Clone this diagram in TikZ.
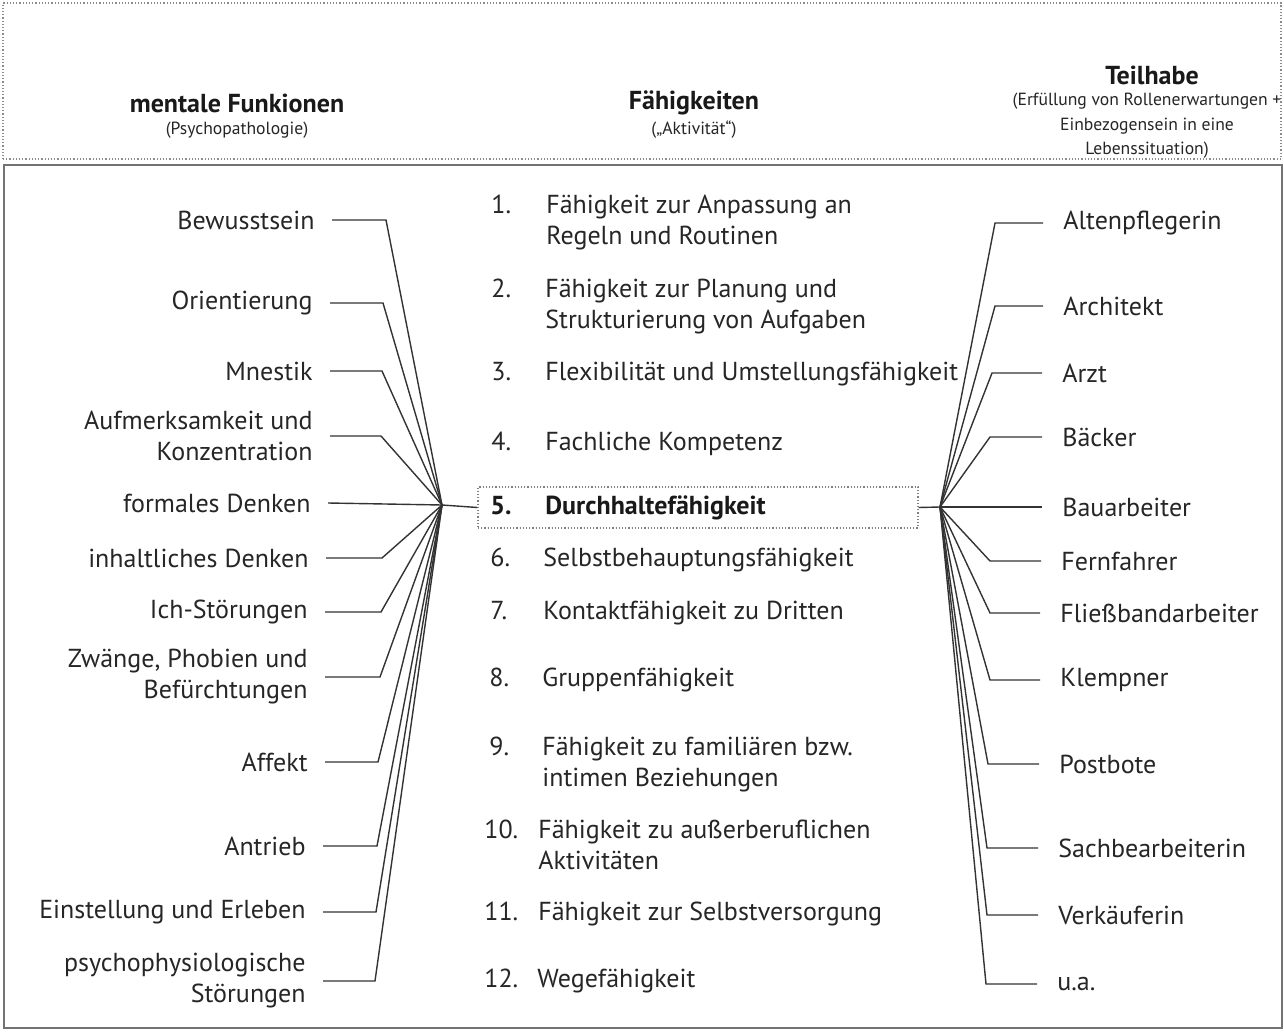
\documentclass[tikz,border=0pt]{standalone}
\usepackage{fontspec}
\setmainfont{PT Sans}
\begin{document}
\begin{tikzpicture}[x=0.5pt,y=-0.5pt,
  body/.style={font=\fontsize{13}{15.5}\selectfont, text=black!85},
  bbody/.style={font=\bfseries\fontsize{13}{15.5}\selectfont, text=black!90},
  lab/.style={body, anchor=east, align=right, inner ysep=0pt, inner xsep=8.5pt},
  rlab/.style={body, anchor=west, align=left, inner ysep=0pt, inner xsep=10pt},
  num/.style={anchor=base west, inner sep=0pt},
  item/.style={anchor=base west, align=left, inner sep=0pt},
  conn/.style={draw=black!80, line width=0.7pt},
  head/.style={font=\bfseries\fontsize{13}{15}\selectfont, text=black!90},
  sub/.style={font=\fontsize{8.8}{12.25}\selectfont, text=black!85, align=center}
]
\useasboundingbox (0,0) rectangle (1284,1032);
\fill[white] (0,0) rectangle (1284,1032);

% frames
\node[draw=black!45, densely dotted, line width=0.6pt, minimum width=639pt, minimum height=78pt, inner sep=0pt] (hdr) at (642,81) {};
\node[draw=black!55, line width=0.6pt, minimum width=639pt, minimum height=431.5pt, inner sep=0pt] (main) at (643,596.5) {};

% header
\node[head] (h1) at (237,103) {mentale Funkionen};
\node[sub] (h1s) at (237,130) {(Psychopathologie)};
\node[head] (h2) at (694,103) {Fähigkeiten};
\node[sub] (h2s) at (694,130) {(„Aktivität“)};
\node[head] (h3) at (1152,75) {Teilhabe};
\node[sub] (h3s) at (1147,126) {(Erfüllung von Rollenerwartungen +\\Einbezogensein in eine\\Lebenssituation)};

% convergence points
\coordinate (L) at (442,505);
\coordinate (R) at (940,507);

% box 5
\node[draw=black!50, densely dotted, line width=0.6pt, minimum width=220pt, minimum height=20.5pt, inner sep=0pt] (b5) at (698,507.5) {};
\draw[conn] (L) -- (b5.west);
\draw[conn] (b5.east) -- (R);

% centre items
\node[num, body] (n1) at (491,214) {1.};
\node[item, body] (t1) at (546,214) {Fähigkeit zur Anpassung an};
\node[item, body] (t1b) at (546,245) {Regeln und Routinen};
\node[num, body] (n2) at (491,297) {2.};
\node[item, body] (t2) at (545,297) {Fähigkeit zur Planung und};
\node[item, body] (t2b) at (545,328) {Strukturierung von Aufgaben};
\node[num, body] (n3) at (491,380) {3.};
\node[item, body] (t3) at (545,380) {Flexibilität und Umstellungsfähigkeit};
\node[num, body] (n4) at (491,450) {4.};
\node[item, body] (t4) at (545,450) {Fachliche Kompetenz};
\node[num, bbody] (n5) at (490,514) {5.};
\node[item, bbody] (t5) at (545,514) {Durchhaltefähigkeit};
\node[num, body] (n6) at (490,566) {6.};
\node[item, body] (t6) at (543,566) {Selbstbehauptungsfähigkeit};
\node[num, body] (n7) at (490,619) {7.};
\node[item, body] (t7) at (543,619) {Kontaktfähigkeit zu Dritten};
\node[num, body] (n8) at (489,686) {8.};
\node[item, body] (t8) at (542,686) {Gruppenfähigkeit};
\node[num, body] (n9) at (489,755) {9.};
\node[item, body] (t9) at (542,755) {Fähigkeit zu familiären bzw.};
\node[item, body] (t9b) at (542,786) {intimen Beziehungen};
\node[num, body] (n10) at (484,838) {10.};
\node[item, body] (t10) at (538,838) {Fähigkeit zu außerberuflichen};
\node[item, body] (t10b) at (538,869) {Aktivitäten};
\node[num, body] (n11) at (484,920) {11.};
\node[item, body] (t11) at (538,920) {Fähigkeit zur Selbstversorgung};
\node[num, body] (n12) at (484,987) {12.};
\node[item, body] (t12) at (537,987) {Wegefähigkeit};

% left labels
\foreach \i/\y/\ex/\sx/\txt in {
  1/220/386/332/Bewusstsein,
  2/303/383/330/Orientierung,
  3/371/382/330/Mnestik,
  4/436/381/330/{Aufmerksamkeit und\\Konzentration},
  6/558/382/326/inhaltliches Denken,
  7/612/381/325/Ich-Störungen,
  8/677/380/325/{Zwänge, Phobien und\\Befürchtungen},
  9/762/378/325/Affekt,
  10/846/377/323/Antrieb,
  11/912/376/323/Einstellung und Erleben,
  12/981/375/323/{psychophysiologische\\Störungen}}{
  \node[lab] (l\i) at (\sx,\y) {\txt};
  \coordinate (le\i) at (\ex,\y);
  \draw[conn] (l\i.east) -- (le\i) -- (L);
}
\node[lab] (l5) at (328,503) {formales Denken};
\draw[conn] (l5.east) -- (L);

% right labels
\foreach \i/\y/\ex/\sx/\txt in {
  1/223/995/1043/Altenpflegerin,
  2/306/995/1043/Architekt,
  3/373/992/1042/Arzt,
  4/437/990/1042/Bäcker,
  6/561/990/1041/Fernfahrer,
  7/613/990/1040/Fließbandarbeiter,
  8/680/990/1040/Klempner,
  9/764/988/1039/Postbote,
  10/848/987/1038/Sachbearbeiterin,
  11/915/987/1038/Verkäuferin,
  12/984/986/1037/u.a.}{
  \node[rlab] (r\i) at (\sx,\y) {\txt};
  \coordinate (re\i) at (\ex,\y);
  \draw[conn] (R) -- (re\i) -- (r\i.west);
}
\node[rlab] (r5) at (1042,507) {Bauarbeiter};
\draw[conn] (R) -- (r5.west);
\end{tikzpicture}
\end{document}
